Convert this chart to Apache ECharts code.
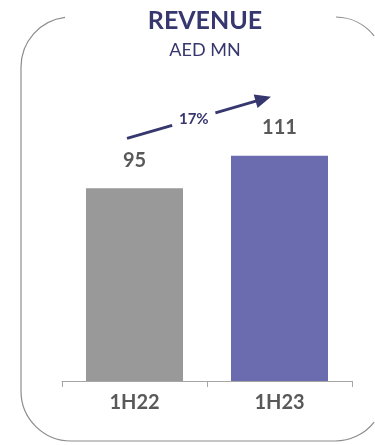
<!DOCTYPE html>
<html>
<head>
<meta charset="utf-8">
<script src="https://cdn.jsdelivr.net/npm/echarts@6/dist/echarts.min.js"></script>
<style>
html,body{margin:0;padding:0;background:#fff;overflow:hidden;}
#c{width:375px;height:445px;}
</style>
</head>
<body>
<div id="c"></div>
<script>
var categories = ['1H22', '1H23'];
var revenue = [95, 111];
var growthLabel = '17%';
var titleText = 'REVENUE';
var subtitleText = 'AED MN';

var NAVY = '#37376f';
var barColors = ['#999999', '#6b6baf'];
var FONT = 'Lato, "Open Sans", sans-serif';

var chart = echarts.init(document.getElementById('c'), null, {renderer: 'canvas', width: 375, height: 445});

var option = {
  animation: false,
  backgroundColor: '#ffffff',
  title: [
    {text: titleText, left: 200, textAlign: 'center', top: 3, z: 10, textStyle: {fontFamily: FONT, fontSize: 25, fontWeight: 'bold', color: NAVY}},
    {text: subtitleText, left: 200, textAlign: 'center', top: 36, z: 10, textStyle: {fontFamily: FONT, fontSize: 18, fontWeight: 'normal', color: NAVY}}
  ],
  grid: {left: 62, right: 23, top: 97, bottom: 64},
  xAxis: {
    type: 'category',
    data: categories,
    axisLine: {lineStyle: {color: '#a6a6a6', width: 1}},
    axisTick: {show: true, length: 6, lineStyle: {color: '#a6a6a6'}},
    axisLabel: {margin: 12, fontFamily: FONT, fontSize: 20, fontWeight: 'bold', color: '#595959'}
  },
  yAxis: {type: 'value', min: 0, max: 140, show: false, splitLine: {show: false}},
  series: [{
    type: 'bar',
    barWidth: 97,
    data: revenue.map(function (v, i) { return {value: v, itemStyle: {color: barColors[i]}}; }),
    label: {show: true, position: 'top', distance: 18, fontFamily: FONT, fontSize: 20, fontWeight: 'bold', color: '#595959'}
  }]
};
chart.setOption(option);

// Arrow annotation anchored to the bars via the chart's scales
var p0 = chart.convertToPixel({gridIndex: 0}, [0, revenue[0]]);
var p1 = chart.convertToPixel({gridIndex: 0}, [1, revenue[1]]);
var sx = p0[0] - 7.5, sy = p0[1] - 50;
var tx = p1[0] - 8.5, ty = p1[1] - 59;
var dx = tx - sx, dy = ty - sy, len = Math.sqrt(dx * dx + dy * dy);
var ux = dx / len, uy = dy / len;
function at(t) { return [sx + ux * t, sy + uy * t]; }
var gapA = at(47), gapB = at(92), headBase = at(len - 16);
var nx = -uy, ny = ux, hw = 7;
var midText = at((47 + 92) / 2);

var BS = {fill: null, stroke: '#8c8c8c', lineWidth: 1.2};
var PI = Math.PI;
var frame = [
  {type: 'arc', shape: {cx: 71, cy: 67, r: 50, startAngle: PI, endAngle: 1.5 * PI - 0.12, clockwise: true}, style: BS, silent: true},
  {type: 'line', shape: {x1: 21, y1: 67, x2: 21, y2: 391}, style: BS, silent: true},
  {type: 'arc', shape: {cx: 71, cy: 391, r: 50, startAngle: 0.5 * PI, endAngle: PI, clockwise: true}, style: BS, silent: true},
  {type: 'line', shape: {x1: 71, y1: 441, x2: 335, y2: 441}, style: BS, silent: true},
  {type: 'arc', shape: {cx: 335, cy: 391, r: 50, startAngle: 0.5 * PI - 0.9, endAngle: 0.5 * PI, clockwise: true}, style: BS, silent: true},
  {type: 'arc', shape: {cx: 335, cy: 67, r: 50, startAngle: 1.5 * PI + 0.02, endAngle: 1.5 * PI + 0.9, clockwise: true}, style: BS, silent: true}
];

chart.setOption({
  graphic: frame.concat([
    {type: 'line', z: 2, shape: {x1: sx, y1: sy, x2: gapA[0], y2: gapA[1]}, style: {stroke: NAVY, lineWidth: 2.8}},
    {type: 'line', z: 2, shape: {x1: gapB[0], y1: gapB[1], x2: headBase[0] + ux * 2, y2: headBase[1] + uy * 2}, style: {stroke: NAVY, lineWidth: 2.8}},
    {type: 'polygon', z: 2, shape: {points: [[tx, ty], [headBase[0] + nx * hw, headBase[1] + ny * hw], [headBase[0] - nx * hw, headBase[1] - ny * hw]]}, style: {fill: NAVY}},
    {type: 'text', z: 2, x: midText[0], y: midText[1], style: {text: growthLabel, fill: NAVY, font: 'bold 15px ' + FONT, textAlign: 'center', textVerticalAlign: 'middle'}}
  ])
});
</script>
</body>
</html>
